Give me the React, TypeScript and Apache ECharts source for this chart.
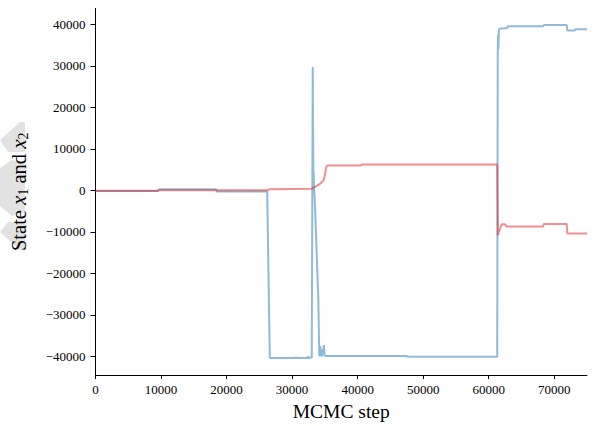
import React, { useEffect, useRef } from "react";
import * as echarts from "echarts";

// x1 (blue) trace: MCMC step -> state
const x1Steps = [0, 9500, 9700, 18400, 18500, 26200, 26600, 30500, 30600, 30700, 32300, 32400, 32500, 33000, 33150, 33250, 33300, 33350, 33450, 34000, 34150, 34250, 34300, 34400, 34500, 34600, 34700, 34850, 34950, 35050, 47500, 47600, 61300, 61380, 61430, 61480, 61550, 61650, 62800, 62900, 68300, 68400, 71900, 72000, 73100, 73200, 75000];
const x1Values = [-150, -150, 250, 250, -300, -300, -40400, -40400, -40200, -40400, -40400, -40000, -40400, -40300, 29700, 3500, 4200, 500, -2000, -26000, -40000, -40000, -37500, -40000, -38300, -40000, -40000, -37300, -39500, -39900, -39900, -40100, -40100, 33000, 37500, 34000, 38600, 38900, 39100, 39500, 39500, 39800, 39800, 38500, 38500, 38800, 38800];

// x2 (red) trace
const x2Steps = [0, 9600, 9700, 26300, 26500, 33000, 33500, 34000, 34300, 34800, 35000, 35200, 35400, 40500, 40600, 61300, 61400, 61600, 62000, 62500, 62700, 68300, 68400, 71900, 72000, 75000];
const x2Values = [-100, -100, 0, 0, 250, 400, 800, 1300, 1600, 2400, 3600, 5600, 6000, 6000, 6200, 6200, -10800, -9800, -8200, -8200, -8700, -8700, -8100, -8100, -10400, -10400];

const xTicks = [0, 10000, 20000, 30000, 40000, 50000, 60000, 70000];
const yTicks = [-40000, -30000, -20000, -10000, 0, 10000, 20000, 30000, 40000];

const FONT = "Liberation Serif";

export default function App() {
  const ref = useRef<HTMLDivElement>(null);
  useEffect(() => {
    document.body.style.margin = "0";
    const chart = echarts.init(ref.current!, null, { renderer: "svg" });
    const s1 = x1Steps.map((s, i) => [s, x1Values[i]]);
    const s2 = x2Steps.map((s, i) => [s, x2Values[i]]);
    const fmt = (v: number) => (v < 0 ? "\u2212" + Math.abs(v) : String(v));
    chart.setOption({
      animation: false,
      backgroundColor: "#ffffff",
      grid: { left: 95.5, right: 7, top: 8.5, bottom: 51, containLabel: false, outerBoundsMode: "none" },
      graphic: [
        { type: "polygon", z: -10, shape: { points: [[0, 140], [20, 122], [25, 122], [25, 152], [8, 152]] }, style: { fill: "#e2e2e2" } },
        { type: "polygon", z: -10, shape: { points: [[0, 168], [12, 160], [25, 165], [25, 212], [12, 216], [0, 206]] }, style: { fill: "#e2e2e2" } },
        { type: "polygon", z: -10, shape: { points: [[8, 222], [25, 222], [25, 250], [20, 250], [0, 232]] }, style: { fill: "#e2e2e2" } },
      ],
      xAxis: {
        type: "value",
        min: 0,
        max: 75000,
        name: "MCMC step",
        nameLocation: "middle",
        nameGap: 26,
        nameTextStyle: { fontFamily: FONT, fontSize: 19.5, color: "#000" },
        axisLine: { show: true, onZero: false, lineStyle: { color: "#000", width: 1 } },
        axisTick: { show: true, length: 4, lineStyle: { color: "#000" }, customValues: xTicks },
        axisLabel: { fontFamily: FONT, fontSize: 13, color: "#000", margin: 8, customValues: xTicks, formatter: fmt },
        splitLine: { show: false },
      },
      yAxis: {
        type: "value",
        min: -44500,
        max: 43800,
        name: "{r|State }{i|x}{s|1}{r| and }{i|x}{s|2}",
        nameLocation: "middle",
        nameRotate: 90,
        nameGap: 65,
        nameTextStyle: {
          fontFamily: FONT,
          fontSize: 20.5,
          color: "#000",
          rich: {
            r: { fontFamily: FONT, fontSize: 20.5, lineHeight: 24, color: "#000" },
            i: { fontFamily: FONT, fontSize: 21, lineHeight: 24, fontStyle: "italic", color: "#000" },
            s: { fontFamily: FONT, fontSize: 14, lineHeight: 13, verticalAlign: "bottom", color: "#000" },
          },
        },
        axisLine: { show: true, onZero: false, lineStyle: { color: "#000", width: 1 } },
        axisTick: { show: true, length: 5, lineStyle: { color: "#000" }, customValues: yTicks },
        axisLabel: { fontFamily: FONT, fontSize: 13, color: "#000", margin: 10, customValues: yTicks, formatter: fmt },
        splitLine: { show: false },
      },
      series: [
        {
          type: "line",
          data: s1,
          showSymbol: false,
          lineStyle: { color: "rgba(31,119,180,0.5)", width: 2 },
          itemStyle: { color: "rgba(31,119,180,0.5)" },
        },
        {
          type: "line",
          data: s2,
          showSymbol: false,
          lineStyle: { color: "rgba(230,30,30,0.5)", width: 2 },
          itemStyle: { color: "rgba(230,30,30,0.5)" },
        },
      ],
    });
    return () => chart.dispose();
  }, []);
  return <div ref={ref} style={{ width: 594, height: 426 }} />;
}
